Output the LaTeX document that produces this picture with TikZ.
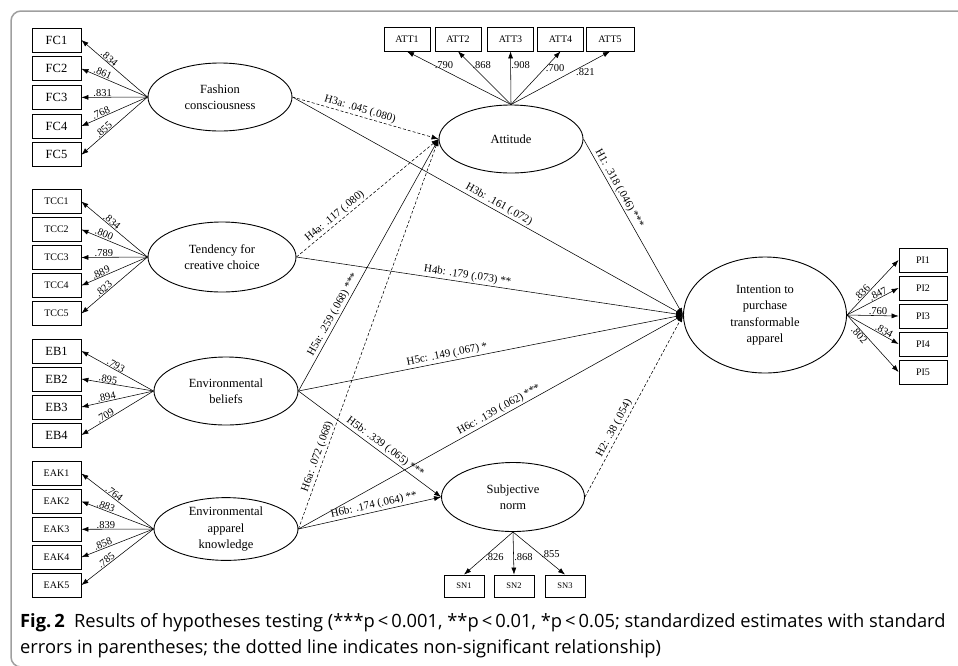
\documentclass[tikz,border=0pt]{standalone}
\usepackage{fontspec}
\setmainfont{Liberation Serif}
\newfontfamily\capfont{Open Sans}
\usetikzlibrary{shapes.geometric,arrows.meta}
\tikzset{
  latent/.style  ={ellipse,draw,line width=0.9pt,inner sep=0pt,align=center,
                   font=\fontsize{12.5}{16.5}\selectfont},
  indbig/.style  ={rectangle,draw,line width=0.8pt,minimum width=49pt,
                   minimum height=24pt,inner sep=0pt,font=\fontsize{12.5}{14}\selectfont},
  indsmall/.style={indbig,font=\fontsize{10}{12}\selectfont},
  indtiny/.style ={indbig,minimum width=40pt,minimum height=22pt,
                   font=\fontsize{8.5}{10}\selectfont},
  arr/.style     ={-{Latex[length=7pt,width=5pt]},line width=0.55pt},
  nsarr/.style   ={arr,dash pattern=on 3pt off 2pt},
  hyp/.style     ={sloped,above,inner sep=1.5pt,font=\fontsize{11}{13}\selectfont},
  load/.style    ={inner sep=0.5pt,font=\fontsize{10.5}{12}\selectfont},
  capt/.style    ={inner sep=0pt,font=\capfont\fontsize{18.3}{21}\selectfont}
}
\begin{document}
\begin{tikzpicture}[x=1pt,y=-1pt]
  \clip (0,0) rectangle (958,665);
  % Frame
  \draw[gray!75, line width=1.5pt, rounded corners=10pt]
    (970,11) -- (11,11) -- (11,667) -- (60,667);

  % Latent variables
  \node (fc)  at (220,97)  [latent, minimum width=144pt, minimum height=68pt] {Fashion\\consciousness};
  \node (tcc) at (222,257) [latent, minimum width=148pt, minimum height=70pt] {Tendency for\\creative choice};
  \node (eb)  at (226,391) [latent, minimum width=144pt, minimum height=68pt] {Environmental\\beliefs};
  \node (eak) at (226,529) [latent, minimum width=144pt, minimum height=60pt] {Environmental\\apparel\\knowledge};
  \node (att) at (511,139) [latent, minimum width=144pt, minimum height=68pt] {Attitude};
  \node (sn)  at (513,497) [latent, minimum width=143pt, minimum height=69pt] {Subjective\\norm};
  \node (itp) at (765,315) [latent, minimum width=163pt, minimum height=116pt] {Intention to\\purchase\\transformable\\apparel};

  % Indicators
  \node (fc1) at (56.5,40)    [indbig] {FC1};
  \node (fc2) at (56.5,68.7)  [indbig] {FC2};
  \node (fc3) at (56.5,97.4)  [indbig] {FC3};
  \node (fc4) at (56.5,126.1) [indbig] {FC4};
  \node (fc5) at (56.5,154.8) [indbig] {FC5};

  \node (tcc1) at (56.5,201.5) [indsmall] {TCC1};
  \node (tcc2) at (56.5,229.5) [indsmall] {TCC2};
  \node (tcc3) at (56.5,257.5) [indsmall] {TCC3};
  \node (tcc4) at (56.5,285.5) [indsmall] {TCC4};
  \node (tcc5) at (56.5,313.5) [indsmall] {TCC5};

  \node (eb1) at (56.5,351) [indbig] {EB1};
  \node (eb2) at (56.5,379) [indbig] {EB2};
  \node (eb3) at (56.5,407) [indbig] {EB3};
  \node (eb4) at (56.5,435) [indbig] {EB4};

  \node (eak1) at (56.5,473.5) [indsmall] {EAK1};
  \node (eak2) at (56.5,501.4) [indsmall] {EAK2};
  \node (eak3) at (56.5,529.3) [indsmall] {EAK3};
  \node (eak4) at (56.5,557.2) [indsmall] {EAK4};
  \node (eak5) at (56.5,585.1) [indsmall] {EAK5};

  \node (att1) at (407,39)   [indsmall, minimum width=46pt] {ATT1};
  \node (att2) at (458,39)   [indsmall, minimum width=46pt] {ATT2};
  \node (att3) at (510.5,39) [indsmall, minimum width=46pt] {ATT3};
  \node (att4) at (560.5,39) [indsmall, minimum width=46pt] {ATT4};
  \node (att5) at (610,39)   [indsmall, minimum width=48pt] {ATT5};

  \node (pi1) at (923,260) [indsmall, minimum width=48pt] {PI1};
  \node (pi2) at (923,288) [indsmall, minimum width=48pt] {PI2};
  \node (pi3) at (923,316) [indsmall, minimum width=48pt] {PI3};
  \node (pi4) at (923,344) [indsmall, minimum width=48pt] {PI4};
  \node (pi5) at (923,372) [indsmall, minimum width=48pt] {PI5};

  \node (sn1) at (464,586) [indtiny] {SN1};
  \node (sn2) at (514,586) [indtiny] {SN2};
  \node (sn3) at (565,586) [indtiny] {SN3};

  % Loadings
  \draw[arr] (fc.west) -- node[load,sloped,above,pos=.62] {.834} (fc1.east);
  \draw[arr] (fc.west) -- node[load,sloped,above,pos=.70] {.861} (fc2.east);
  \draw[arr] (fc.west) -- node[load,sloped,above,pos=.68] {.831} (fc3.east);
  \draw[arr] (fc.west) -- node[load,sloped,above,pos=.68] {.768} (fc4.east);
  \draw[arr] (fc.west) -- node[load,sloped,above,pos=.62] {.855} (fc5.east);

  \draw[arr] (tcc.west) -- node[load,sloped,above,pos=.58] {.834} (tcc1.east);
  \draw[arr] (tcc.west) -- node[load,sloped,above,pos=.68] {.800} (tcc2.east);
  \draw[arr] (tcc.west) -- node[load,sloped,above,pos=.66] {.789} (tcc3.east);
  \draw[arr] (tcc.west) -- node[load,sloped,above,pos=.68] {.889} (tcc4.east);
  \draw[arr] (tcc.west) -- node[load,sloped,above,pos=.62] {.823} (tcc5.east);

  \draw[arr] (eb.west) -- node[load,sloped,above,pos=.55] {.793} (eb1.east);
  \draw[arr] (eb.west) -- node[load,sloped,above,pos=.64] {.895} (eb2.east);
  \draw[arr] (eb.west) -- node[load,sloped,above,pos=.64] {.894} (eb3.east);
  \draw[arr] (eb.west) -- node[load,sloped,above,pos=.64] {.709} (eb4.east);

  \draw[arr] (eak.west) -- node[load,sloped,above,pos=.58] {.764} (eak1.east);
  \draw[arr] (eak.west) -- node[load,sloped,above,pos=.68] {.883} (eak2.east);
  \draw[arr] (eak.west) -- node[load,sloped,above,pos=.66] {.839} (eak3.east);
  \draw[arr] (eak.west) -- node[load,sloped,above,pos=.68] {.858} (eak4.east);
  \draw[arr] (eak.west) -- node[load,sloped,above,pos=.62] {.785} (eak5.east);

  \draw[arr] (att.north) -- node[load,right,pos=.74] {.790} (att1.south);
  \draw[arr] (att.north) -- node[load,right,pos=.74] {.868} (att2.south);
  \draw[arr] (att.north) -- node[load,right,pos=.74] {.908} (att3.south);
  \draw[arr] (att.north) -- node[load,right,pos=.69] {.700} (att4.south);
  \draw[arr] (att.north) -- node[load,right,pos=.61,xshift=4pt] {.821} (att5.south);

  \draw[arr] (itp.east) -- node[load,sloped,above,pos=.35] {.836} (pi1.west);
  \draw[arr] (itp.east) -- node[load,sloped,above,pos=.64] {.847} (pi2.west);
  \draw[arr] (itp.east) -- node[load,sloped,above,pos=.60] {.760} (pi3.west);
  \draw[arr] (itp.east) -- node[load,sloped,above,pos=.68] {.834} (pi4.west);
  \draw[arr] (itp.east) -- node[load,sloped,below,pos=.30] {.802} (pi5.west);

  \draw[arr] (sn.south) -- node[load,right,pos=.58] {.826} (sn1.north);
  \draw[arr] (sn.south) -- node[load,right,pos=.58] {.868} (sn2.north);
  \draw[arr] (sn.south) -- node[load,right,pos=.53] {.855} (sn3.north);

  % Structural paths
  \draw[nsarr] (fc.east)  -- node[hyp,pos=.45] {H3a: .045 (.080)} (att.west);
  \draw[arr]   (fc.east)  -- node[hyp,pos=.52] {H3b: .161 (.072)} (itp.west);
  \draw[nsarr] (tcc.east) -- node[hyp,pos=.30] {H4a: .117 (.080)} (att.west);
  \draw[arr]   (tcc.east) -- node[hyp,pos=.44] {H4b: .179 (.073) **} (itp.west);
  \draw[arr]   (eb.east)  -- node[hyp,pos=.29] {H5a: .259 (.068) ***} (att.west);
  \draw[arr]   (eb.east)  -- node[hyp,pos=.58] {H5b: .339 (.065) ***} (sn.west);
  \draw[arr]   (eb.east)  -- node[hyp,pos=.39] {H5c: .149 (.067) *} (itp.west);
  \draw[nsarr] (eak.east) -- node[hyp,pos=.18] {H6a: .072 (.068)} (att.west);
  \draw[arr]   (eak.east) -- node[hyp,pos=.54] {H6b: .174 (.064) **} (sn.west);
  \draw[arr]   (eak.east) -- node[hyp,pos=.53] {H6c: .139 (.062) ***} (itp.west);
  \draw[arr]   (att.east) -- node[hyp,pos=.30] {H1: .318 (.046) ***} (itp.west);
  \draw[nsarr] (sn.east)  -- node[hyp,pos=.36] {H2: .38 (.054)} (itp.west);

  % Caption
  \node (cap1) at (20,627) [capt, anchor=base west]
    {\textbf{Fig.\,2}\enspace Results of hypotheses testing (***p\,<\,0.001, **p\,<\,0.01, *p\,<\,0.05; standardized estimates with standard};
  \node (cap2) at (20,653) [capt, anchor=base west]
    {errors in parentheses; the dotted line indicates non-significant relationship)};
\end{tikzpicture}
\end{document}
